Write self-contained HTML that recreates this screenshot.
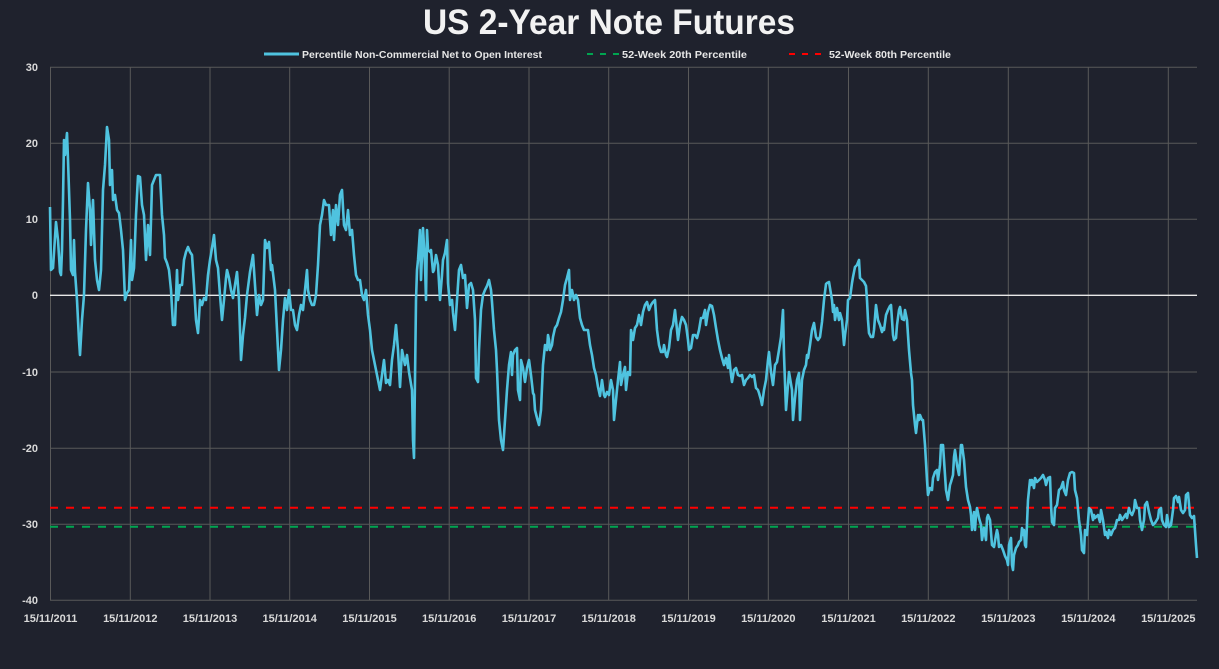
<!DOCTYPE html>
<html><head><meta charset="utf-8"><style>
html,body{margin:0;padding:0;background:#1f222d;}
svg{display:block;font-family:"Liberation Sans",sans-serif;}
</style></head><body>
<svg width="1219" height="669" viewBox="0 0 1219 669">
<rect width="1219" height="669" fill="#1f222d"/>
<text x="609" y="34" text-anchor="middle" font-size="35" font-weight="bold" fill="#f2f2f2" textLength="372" lengthAdjust="spacingAndGlyphs">US 2-Year Note Futures</text>
<g font-size="10" font-weight="bold" fill="#e6e6e6">
<line x1="264" y1="54" x2="299" y2="54" stroke="#4fc3df" stroke-width="3"/>
<text x="302" y="58" textLength="240" lengthAdjust="spacingAndGlyphs">Percentile Non-Commercial Net to Open Interest</text>
<line x1="587" y1="54" x2="620" y2="54" stroke="#00a550" stroke-width="2" stroke-dasharray="6,7"/>
<text x="622" y="58" textLength="125" lengthAdjust="spacingAndGlyphs">52-Week 20th Percentile</text>
<line x1="789" y1="54" x2="822" y2="54" stroke="#ff0000" stroke-width="2" stroke-dasharray="6,7"/>
<text x="829" y="58" textLength="122" lengthAdjust="spacingAndGlyphs">52-Week 80th Percentile</text>
</g>
<g stroke="#595959" stroke-width="1">
<line x1="50" y1="67.3" x2="1197" y2="67.3"/>
<line x1="50" y1="143.3" x2="1197" y2="143.3"/>
<line x1="50" y1="219.3" x2="1197" y2="219.3"/>
<line x1="50" y1="372" x2="1197" y2="372"/>
<line x1="50" y1="448.2" x2="1197" y2="448.2"/>
<line x1="50" y1="524.3" x2="1197" y2="524.3"/>
<line x1="50" y1="600.3" x2="1197" y2="600.3"/>
<line x1="50.5" y1="67" x2="50.5" y2="600"/>
<line x1="130.3" y1="67" x2="130.3" y2="600"/>
<line x1="210" y1="67" x2="210" y2="600"/>
<line x1="289.7" y1="67" x2="289.7" y2="600"/>
<line x1="369.5" y1="67" x2="369.5" y2="600"/>
<line x1="449.2" y1="67" x2="449.2" y2="600"/>
<line x1="529" y1="67" x2="529" y2="600"/>
<line x1="608.7" y1="67" x2="608.7" y2="600"/>
<line x1="688.5" y1="67" x2="688.5" y2="600"/>
<line x1="768.3" y1="67" x2="768.3" y2="600"/>
<line x1="848.5" y1="67" x2="848.5" y2="600"/>
<line x1="928.3" y1="67" x2="928.3" y2="600"/>
<line x1="1008.3" y1="67" x2="1008.3" y2="600"/>
<line x1="1088.3" y1="67" x2="1088.3" y2="600"/>
<line x1="1168.3" y1="67" x2="1168.3" y2="600"/>
</g>
<line x1="50" y1="295.3" x2="1197" y2="295.3" stroke="#e8e8e8" stroke-width="1.3"/>
<line x1="50" y1="507.7" x2="1197" y2="507.7" stroke="#ff0000" stroke-width="2" stroke-dasharray="8,8"/>
<line x1="50" y1="526.7" x2="1197" y2="526.7" stroke="#00a550" stroke-width="2" stroke-dasharray="8,8"/>
<polyline fill="none" stroke="#4fc3df" stroke-width="2.6" stroke-linejoin="round" points="50,207 51,270 53,268 56,222 58,240 60,272 61,275 62,250 63,200 64,140 65,155 67,133 68,160 70,220 71,270 73,275 74,240 75,272 77,300 79,340 80,355 82,320 84,295 86,230 88,183 90,210 91,245 93,200 95,260 97,280 99,290 101,270 103,190 105,165 107,127 109,140 110,185 112,170 113,200 115,195 117,210 119,213 121,230 123,250 125,300 127,293 129,290 131,240 132,280 134,268 136,215 138,176 140,177 142,205 144,215 146,260 148,225 150,255 152,185 154,180 156,175 158,175 160,175 161,195 162,215 164,235 165,258 167,263 169,270 171,290 173,325 175,325 177,270 178,300 180,285 182,285 184,260 186,252 188,247 190,252 192,255 194,285 196,320 198,333 200,300 202,305 204,298 206,300 208,275 210,260 212,248 214,235 216,260 218,268 220,295 222,320 224,300 226,278 227,270 229,278 231,290 233,298 235,285 237,272 239,300 241,360 243,335 245,318 247,295 250,272 253,255 255,285 257,315 259,295 261,305 263,300 265,240 267,248 269,242 271,270 272,265 275,290 277,330 279,370 281,350 283,320 285,298 287,310 289,290 291,310 293,310 295,325 297,330 299,315 301,305 303,310 305,290 307,270 308,290 310,300 312,305 314,305 316,295 318,265 320,225 322,215 324,200 326,205 327,205 329,205 331,235 333,210 334,240 336,205 338,225 340,195 342,190 344,225 346,230 348,210 350,235 352,230 354,255 356,275 358,280 360,280 362,295 364,300 366,290 368,315 370,330 372,350 374,360 376,370 378,380 380,390 382,375 384,360 386,383 388,380 390,385 392,360 394,345 396,325 398,350 400,387 402,350 405,365 407,355 409,372 412,390 413,440 414,458 416,300 417,270 418,260 420,230 421,280 423,228 425,265 426,300 427,230 428,250 430,252 431,250 433,272 434,270 436,255 438,265 440,300 442,275 443,260 445,253 447,240 448,283 450,305 452,300 453,313 455,330 457,300 459,270 461,265 463,278 465,275 467,308 469,285 471,283 473,290 475,320 476,378 478,382 479,350 481,310 483,295 485,290 487,286 489,280 491,290 492,302 494,330 496,350 497,370 499,420 501,440 503,450 505,420 507,390 509,365 511,352 512,375 513,355 515,350 517,348 518,390 519,395 520,400 521,360 523,368 525,382 527,368 529,360 531,375 533,393 534,395 535,410 537,418 539,425 541,410 543,365 545,345 547,350 548,335 549,340 550,350 552,345 553,337 555,328 557,325 559,318 561,312 563,300 565,285 567,278 569,270 570,300 572,290 574,300 576,295 578,300 580,318 582,325 584,330 586,330 588,330 590,345 592,355 594,368 596,375 598,387 600,396 602,380 604,395 605,397 607,392 609,395 611,380 613,390 614,420 616,400 618,380 620,362 621,385 623,375 625,367 626,390 628,372 630,375 631,330 633,340 635,328 637,325 639,315 641,325 643,312 645,305 647,302 649,310 651,305 653,302 655,300 657,330 659,345 661,352 663,352 664,345 666,355 667,357 669,348 671,330 673,325 675,310 677,330 678,340 680,325 682,317 684,320 686,325 688,340 689,350 691,348 693,335 695,335 697,338 699,330 701,318 703,318 705,310 706,325 708,312 710,305 712,306 714,315 716,328 718,340 720,350 722,358 724,365 726,358 728,368 729,355 731,375 732,382 734,370 736,368 738,375 740,376 742,375 744,385 746,380 748,378 750,375 752,377 754,375 756,388 758,390 759,393 761,400 762,405 764,390 766,380 768,360 769,352 771,372 773,385 775,365 777,362 779,350 781,337 783,310 784,355 786,410 789,372 792,390 793,420 795,398 797,380 799,373 800,420 802,380 804,370 806,365 807,355 808,358 810,345 812,330 814,323 816,337 818,340 820,337 822,322 824,300 826,284 827,283 829,282 832,300 833,312 834,305 835,320 837,308 839,320 840,313 842,320 844,345 845,335 847,320 848,300 850,298 852,283 853,277 855,267 857,265 859,260 860,278 862,280 864,282 866,286 867,300 868,320 869,333 871,337 873,337 874,330 876,305 878,320 880,325 882,332 883,328 884,330 886,315 888,310 890,306 891,305 893,335 894,340 896,338 897,325 899,310 900,307 902,319 904,320 905,310 907,320 909,350 911,373 912,380 913,405 915,425 916,433 918,415 919,420 920,415 922,420 923,420 925,445 927,480 928,495 930,488 932,490 933,478 935,472 937,470 938,480 940,465 941,445 943,445 944,460 946,490 948,500 950,485 951,482 953,475 954,457 955,450 957,465 959,475 961,445 962,445 964,460 966,487 968,500 970,507 971,515 972,530 974,512 975,530 976,515 977,508 979,518 981,525 982,540 984,528 986,540 987,518 988,515 990,520 992,545 994,547 996,535 997,530 998,535 999,547 1001,545 1003,550 1005,556 1007,560 1008,565 1009,545 1011,538 1012,565 1013,570 1014,555 1016,548 1018,545 1019,542 1021,540 1022,528 1023,535 1024,530 1025,545 1026,547 1028,500 1030,480 1031,485 1032,480 1034,488 1035,478 1037,482 1039,480 1041,478 1043,475 1045,480 1046,485 1048,478 1050,477 1051,505 1052,522 1054,525 1055,508 1057,505 1059,490 1061,488 1063,482 1064,490 1066,495 1068,480 1070,473 1072,472 1074,473 1075,490 1077,498 1079,520 1081,535 1082,550 1084,553 1085,530 1087,535 1089,508 1091,510 1093,520 1094,515 1095,518 1096,517 1098,515 1100,522 1101,510 1103,520 1105,535 1106,532 1108,538 1109,530 1111,535 1113,530 1115,528 1117,520 1119,520 1120,515 1122,520 1124,517 1126,514 1127,518 1129,508 1130,512 1132,515 1134,510 1135,500 1137,508 1139,508 1140,520 1142,530 1144,520 1145,505 1147,502 1149,512 1151,520 1153,525 1155,523 1158,518 1159,510 1161,508 1162,520 1164,525 1166,527 1167,515 1169,527 1171,525 1173,510 1174,498 1176,496 1178,502 1179,497 1181,510 1183,513 1185,510 1186,495 1188,493 1190,515 1192,518 1194,516 1196,545 1197,558"/>
<g font-size="11" font-weight="bold" fill="#d9d9d9" text-anchor="end">
<text x="38" y="71">30</text>
<text x="38" y="147">20</text>
<text x="38" y="223">10</text>
<text x="38" y="299">0</text>
<text x="38" y="376">-10</text>
<text x="38" y="452">-20</text>
<text x="38" y="528">-30</text>
<text x="38" y="604">-40</text>
</g>
<g font-size="11" font-weight="bold" fill="#d9d9d9" text-anchor="middle">
<text x="50.5" y="622">15/11/2011</text>
<text x="130.3" y="622">15/11/2012</text>
<text x="210" y="622">15/11/2013</text>
<text x="289.7" y="622">15/11/2014</text>
<text x="369.5" y="622">15/11/2015</text>
<text x="449.2" y="622">15/11/2016</text>
<text x="529" y="622">15/11/2017</text>
<text x="608.7" y="622">15/11/2018</text>
<text x="688.5" y="622">15/11/2019</text>
<text x="768.3" y="622">15/11/2020</text>
<text x="848.5" y="622">15/11/2021</text>
<text x="928.3" y="622">15/11/2022</text>
<text x="1008.3" y="622">15/11/2023</text>
<text x="1088.3" y="622">15/11/2024</text>
<text x="1168.3" y="622">15/11/2025</text>
</g>
</svg>
</body></html>
